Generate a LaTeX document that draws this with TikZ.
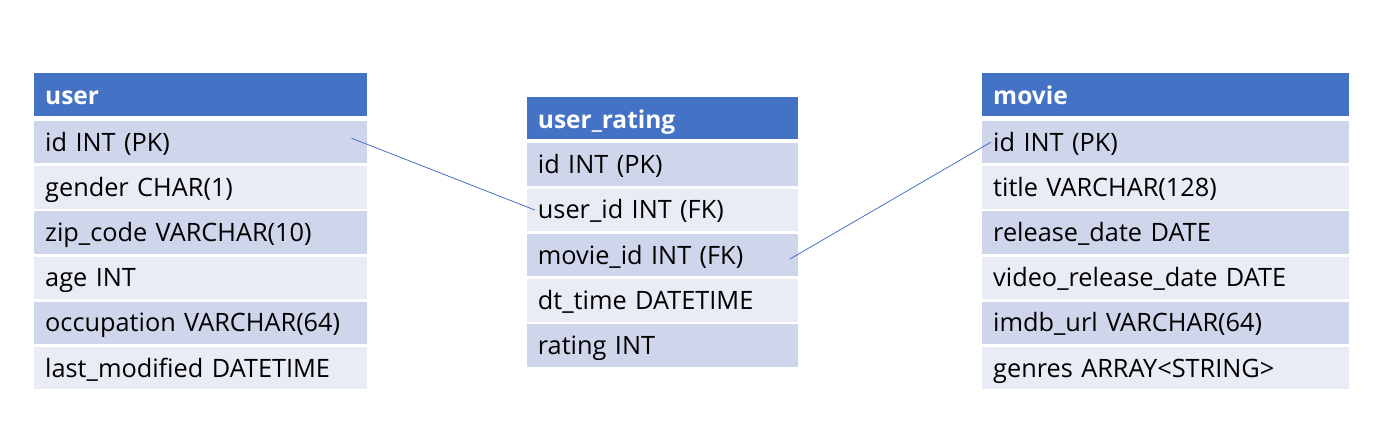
\documentclass[tikz,border=0pt]{standalone}
\usepackage{fontspec}
\setmainfont{Open Sans}
\usepackage{tikz}

\definecolor{hdrblue}{HTML}{4472C4}
\definecolor{rowdark}{HTML}{CFD5EA}
\definecolor{rowlight}{HTML}{E9EBF5}

\tikzset{
    cell/.style={anchor=north west, inner xsep=11pt, inner ysep=0pt,
        minimum height=42.5pt, text height=19pt, text depth=1pt,
        align=left, font=\fontsize{25.3}{28}\selectfont},
    headcell/.style={cell, fill=hdrblue, text=white, text height=20pt, text depth=0pt,
        font=\fontsize{24.5}{28}\selectfont\bfseries},
    link/.style={draw=hdrblue, line width=0.8pt}
}

\begin{document}
\begin{tikzpicture}[x=1pt,y=-1pt]
    \useasboundingbox (0,0) rectangle (1393,441);

    % user table
    \node[headcell, text width=311pt] (uhead) at (34,73.3) {user};
    \foreach \txt [count=\i] in {id INT (PK), gender CHAR(1), zip\_code VARCHAR(10),
        age INT, occupation VARCHAR(64), last\_modified DATETIME}{
        \ifodd\i \def\rowcol{rowdark}\else \def\rowcol{rowlight}\fi
        \node[cell, fill=\rowcol, text width=311pt] (u\i) at (34,{120.7+45.2*(\i-1)}) {\txt};
    };

    % user_rating table
    \node[headcell, text width=248.6pt] (rhead) at (526.7,96.7) {user\_rating};
    \foreach \txt [count=\i] in {id INT (PK), user\_id INT (FK), movie\_id INT (FK),
        dt\_time DATETIME, rating INT}{
        \ifodd\i \def\rowcol{rowdark}\else \def\rowcol{rowlight}\fi
        \node[cell, fill=\rowcol, text width=248.6pt] (r\i) at (526.7,{143.3+45.2*(\i-1)}) {\txt};
    };

    % movie table
    \node[headcell, text width=345pt] (mhead) at (982,73.3) {movie};
    \foreach \txt [count=\i] in {id INT (PK), title VARCHAR(128), release\_date DATE,
        video\_release\_date DATE, imdb\_url VARCHAR(64), genres ARRAY<STRING>}{
        \ifodd\i \def\rowcol{rowdark}\else \def\rowcol{rowlight}\fi
        \node[cell, fill=\rowcol, text width=345pt] (m\i) at (982,{120.7+45.2*(\i-1)}) {\txt};
    };

    % relations
    \draw[link] ([xshift=-16pt,yshift=4pt]u1.east) -- ([xshift=8pt]r2.west);
    \draw[link] ([xshift=-8pt,yshift=-4pt]r3.east) -- ([xshift=9pt]m1.west);
\end{tikzpicture}
\end{document}
